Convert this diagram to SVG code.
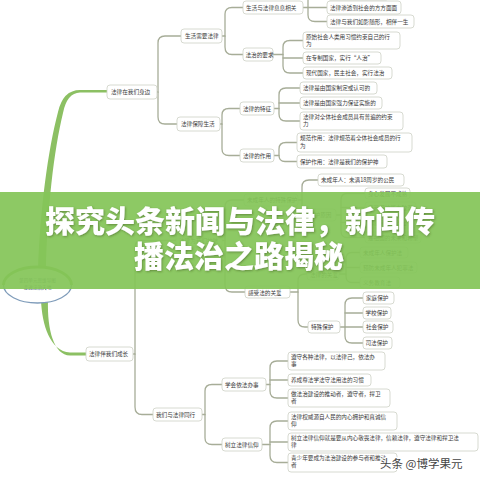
<svg xmlns="http://www.w3.org/2000/svg" width="480" height="480" viewBox="0 0 480 480">
<defs>
<style>
.n rect{fill:#fff;stroke:#cdd1c5;stroke-width:0.8}
.n text,.lf text{font-family:"Noto Sans CJK SC","Noto Sans",sans-serif;font-size:5.6px;fill:#3a3a3a}
.lf rect{fill:#fff;stroke:#cdd1c5;stroke-width:0.8}
#connectors path{fill:none;stroke:#a7ad98;stroke-width:1.3;stroke-linecap:round}
.title{font-family:"Noto Sans CJK SC","Noto Sans",sans-serif;font-weight:900;font-size:30px;fill:#fff;text-anchor:middle}
</style>
<filter id="sh" x="-5%" y="-20%" width="110%" height="140%">
<feDropShadow dx="0.8" dy="1" stdDeviation="0.8" flood-color="#3d5a22" flood-opacity="0.55"/>
</filter>
</defs>
<rect width="480" height="480" fill="#fff"/>

<g id="trunk" fill="#8cc063">
<path d="M38,270 C40,210 48,150 58,112 Q63,90 80,90 H108 V92.6 H80 Q67,93 63,113 C54,150 47,210 46,270 Z"/>
<path d="M41,300 C42,325 50,351 70,352.6 H86 V355.6 H70 C54,355 47,330 48,300 Z"/>
</g>

<g id="connectors">
<path d="M157,92 H158 V43 Q158,36 165,36 H181"/>
<path d="M158,92 V117 Q158,124 165,124 H177"/>
<path d="M222,36 H225 V14 Q225,7.5 232,7.5 H243"/>
<path d="M225,36 V47 Q225,54.5 232,54.5 H243"/>
<path d="M303,7.5 H327"/>
<path d="M308,7.5 V1 Q308,-6 315,-6 H327"/>
<path d="M308,7.5 V15 Q308,21.5 315,21.5 H327"/>
<path d="M273,54.5 H283 V47 Q283,40.5 290,40.5 H303"/>
<path d="M283,58 H303"/>
<path d="M283,54.5 V66 Q283,73 290,73 H303"/>
<path d="M220,124 H222 V115 Q222,108.5 229,108.5 H240"/>
<path d="M222,124 V149 Q222,155.5 229,155.5 H240"/>
<path d="M274,108.5 H279 V95 Q279,88 286,88 H300"/>
<path d="M279,103 H300"/>
<path d="M279,108.5 V114 Q279,121 286,121 H300"/>
<path d="M274,155.5 H279 V149 Q279,142.5 286,142.5 H297"/>
<path d="M279,155.5 Q279,161.5 285,161.5 H297"/>
<path d="M133,354 H135 V247 Q135,240.5 142,240.5 H176"/>
<path d="M135,354 V407 Q135,414.5 142,414.5 H153"/>
<path d="M222,240.5 H225 V207 Q225,200 232,200 H244"/>
<path d="M225,240.5 V285 Q225,292 232,292 H245"/>
<path d="M298,200 H302 V187 Q302,180 309,180 H318"/>
<path d="M302,200 V208 Q302,215 306,215"/>
<path d="M336,215 H341 V200 Q341,193.5 347,193.5 H365"/>
<path d="M341,207.5 H365"/>
<path d="M341,222.5 H365"/>
<path d="M341,215 V231 Q341,237.5 347,237.5 H365"/>
<path d="M290,292 H298 V281 Q298,274 305,274 H307"/>
<path d="M298,292 V320 Q298,327 305,327 H308"/>
<path d="M339,274 H346 V259 Q346,252.5 352,252.5 H360"/>
<path d="M346,267.5 H360"/>
<path d="M346,274 V276 Q346,282.5 352,282.5 H360"/>
<path d="M340,327 H363"/>
<path d="M345,327 V305 Q345,298 352,298 H363"/>
<path d="M345,313 H363"/>
<path d="M345,327 V336 Q345,343 352,343 H363"/>
<path d="M202,414.5 H205 V391 Q205,384.5 212,384.5 H222"/>
<path d="M205,414.5 V438 Q205,444.5 212,444.5 H222"/>
<path d="M266,384.5 H270 V368 Q270,361 277,361 H288"/>
<path d="M270,380 H288"/>
<path d="M270,384.5 V391 Q270,398 277,398 H288"/>
<path d="M262,444.5 H270 V428 Q270,421 277,421 H288"/>
<path d="M270,442 H288"/>
<path d="M270,444.5 V455.5 Q270,462.5 277,462.5 H288"/>
</g>

<g id="root">
<ellipse cx="37.5" cy="285" rx="34" ry="18" fill="#fff" stroke="none"/>
<path d="M3.5,285 A34,18 0 0 1 71.5,285" fill="none" stroke="#7fb84e" stroke-width="3"/>
<path d="M3.5,285 A34,18 0 0 0 71.5,285" fill="none" stroke="#7f9cba" stroke-width="1.3"/>
<text x="37.5" y="282" text-anchor="middle" font-family="Noto Sans CJK SC, sans-serif" font-size="4.6" fill="#3b4f6b">第四单元思维导图</text>
<text x="37.5" y="289" text-anchor="middle" font-family="Noto Sans CJK SC, sans-serif" font-size="4.6" fill="#3b4f6b">走进法治天地</text>
</g>

<g id="n1" class="n"><rect x="107" y="85" width="50" height="14" rx="3"/><text x="111" y="94">法律在我们身边</text></g>
<g id="n2" class="n"><rect x="86" y="347" width="47" height="14" rx="3"/><text x="89" y="356">法律伴我们成长</text></g>
<g id="n11" class="n"><rect x="181" y="29" width="41" height="14" rx="3"/><text x="185" y="38">生活需要法律</text></g>
<g id="n12" class="n"><rect x="177" y="117" width="43" height="14" rx="3"/><text x="181" y="126">法律保障生活</text></g>
<g id="n111" class="n"><rect x="243" y="1" width="60" height="13" rx="3"/><text x="246" y="9.5">生活与法律息息相关</text></g>
<g id="n112" class="n"><rect x="243" y="48" width="30" height="13" rx="3"/><text x="245.5" y="56.5">法治的要求</text></g>
<g id="n121" class="n"><rect x="240" y="102" width="34" height="13" rx="3"/><text x="243" y="110.5">法律的特征</text></g>
<g id="n122" class="n"><rect x="240" y="149" width="34" height="13" rx="3"/><text x="243" y="157.5">法律的作用</text></g>

<g id="l1110" class="lf"><rect x="327" y="-12" width="62" height="12" rx="3"/></g>
<g id="l1111" class="lf"><rect x="327" y="1" width="74" height="13" rx="3"/><text x="330" y="9.5">法律渗透到社会的方方面面</text></g>
<g id="l1112" class="lf"><rect x="327" y="15" width="87" height="13" rx="3"/><text x="330" y="23.5">法律与我们如影随形，相伴一生</text></g>
<g id="l1121" class="lf"><rect x="303" y="32" width="97" height="17" rx="3"/><text x="306" y="38.5">原始社会人类用习惯约束自己的行</text><text x="306" y="45.5">为</text></g>
<g id="l1122" class="lf"><rect x="303" y="52" width="78" height="12" rx="3"/><text x="306" y="60">在专制国家，实行“人治”</text></g>
<g id="l1123" class="lf"><rect x="303" y="67" width="89" height="12" rx="3"/><text x="306" y="75">现代国家，民主社会，实行法治</text></g>
<g id="l1211" class="lf"><rect x="300" y="82" width="77" height="12" rx="3"/><text x="303" y="90">法律是由国家制定或认可的</text></g>
<g id="l1212" class="lf"><rect x="300" y="97" width="82" height="12" rx="3"/><text x="303" y="105">法律是由国家强力保证实施的</text></g>
<g id="l1213" class="lf"><rect x="300" y="112" width="103" height="18" rx="3"/><text x="303" y="118.5">法律对全体社会成员具有普遍的约束</text><text x="303" y="126">力</text></g>
<g id="l1221" class="lf"><rect x="297" y="133" width="115" height="19" rx="3"/><text x="300" y="140">规范作用：法律规范着全体社会成员的行</text><text x="300" y="148">为</text></g>
<g id="l1222" class="lf"><rect x="297" y="155" width="90" height="13" rx="3"/><text x="300" y="163.5">保护作用：法律是我们的保护神</text></g>

<g id="n21" class="n"><rect x="176" y="234" width="46" height="13" rx="3"/><text x="179" y="242.5">法律为我们护航</text></g>
<g id="n211" class="n"><rect x="244" y="194" width="54" height="12" rx="3"/><text x="247" y="202">未成年人的特殊保护</text></g>
<g id="l2111" class="lf"><rect x="318" y="174" width="86" height="12" rx="3"/><text x="321" y="182">未成年人：未满18周岁的公民</text></g>
<g id="n2112" class="n"><rect x="306" y="209" width="30" height="12" rx="3"/><text x="309" y="217">保护原因</text></g>
<g id="l21121" class="lf"><rect x="365" y="188" width="45" height="11" rx="3"/><text x="368" y="195.5">身心发展不成熟</text></g>
<g id="l21122" class="lf"><rect x="365" y="202" width="51" height="11" rx="3"/><text x="368" y="209.5">自我保护能力较弱</text></g>
<g id="l21123" class="lf"><rect x="365" y="217" width="51" height="11" rx="3"/><text x="368" y="224.5">容易受到不法侵害</text></g>
<g id="l21124" class="lf"><rect x="365" y="232" width="56" height="11" rx="3"/><text x="368" y="239.5">是祖国的未来和希望</text></g>
<g id="n212" class="n"><rect x="245" y="286" width="45" height="12" rx="3"/><text x="248" y="294.5">感受法的关爱</text></g>
<g id="n2121" class="n"><rect x="307" y="268" width="32" height="12" rx="3"/><text x="310" y="276.5">法律的关爱</text></g>
<g id="l21211" class="lf"><rect x="360" y="247" width="48" height="11" rx="3"/><text x="363" y="254.5">未成年人保护法</text></g>
<g id="l21212" class="lf"><rect x="360" y="262" width="57" height="11" rx="3"/><text x="363" y="269.5">预防未成年人犯罪法</text></g>
<g id="l21213" class="lf"><rect x="360" y="277" width="40" height="11" rx="3"/><text x="363" y="284.5">义务教育法</text></g>
<g id="n2122" class="n"><rect x="308" y="321" width="32" height="12" rx="3"/><text x="311" y="329">特殊保护</text></g>
<g id="l21221" class="lf"><rect x="363" y="292" width="31" height="12" rx="3"/><text x="366" y="300">家庭保护</text></g>
<g id="l21222" class="lf"><rect x="363" y="307" width="28" height="12" rx="3"/><text x="365.5" y="315">学校保护</text></g>
<g id="l21223" class="lf"><rect x="363" y="321" width="30" height="12" rx="3"/><text x="366" y="329">社会保护</text></g>
<g id="l21224" class="lf"><rect x="363" y="337" width="29" height="12" rx="3"/><text x="365.5" y="345">司法保护</text></g>

<g id="n22" class="n"><rect x="153" y="408" width="49" height="13" rx="3"/><text x="156" y="416.5">我们与法律同行</text></g>
<g id="n221" class="n"><rect x="222" y="378" width="44" height="13" rx="3"/><text x="225" y="386.5">学会依法办事</text></g>
<g id="n222" class="n"><rect x="222" y="438" width="40" height="13" rx="3"/><text x="225" y="446.5">树立法律信仰</text></g>
<g id="l2211" class="lf"><rect x="288" y="352" width="97" height="18" rx="3"/><text x="291" y="358.5">遵守各种法律，以法律己，依法办</text><text x="291" y="366">事</text></g>
<g id="l2212" class="lf"><rect x="288" y="374" width="83" height="12" rx="3"/><text x="291" y="382">养成尊法学法守法用法的习惯</text></g>
<g id="l2213" class="lf"><rect x="288" y="389" width="102" height="18" rx="3"/><text x="291" y="395.5">做法治建设的推动者，遵守者，捍卫</text><text x="291" y="403">者</text></g>
<g id="l2221" class="lf"><rect x="288" y="412" width="109" height="18" rx="3"/><text x="291" y="418.5">法律权威源自人民的内心拥护和真诚信</text><text x="291" y="426">仰</text></g>
<g id="l2222" class="lf"><rect x="288" y="433" width="190" height="18" rx="3"/><text x="291" y="439.5">树立法律信仰就是要从内心敬畏法律，信赖法律，遵守法律和捍卫法</text><text x="291" y="447">律</text></g>
<g id="l2223" class="lf"><rect x="288" y="453" width="109" height="19" rx="3"/><text x="291" y="459.5">青少年要成为法治建设的参与者和推动</text><text x="291" y="467">者</text></g>

<g id="banner">
<rect x="0" y="192" width="480" height="97" fill="#84c558" fill-opacity="0.93"/>
<g filter="url(#sh)">
<text class="title" x="240" y="232">探究头条新闻与法律，新闻传</text>
<text class="title" x="239" y="267">播法治之路揭秘</text>
</g>
</g>

<text id="watermark" x="380" y="468" font-family="Noto Sans CJK SC, sans-serif" font-size="11.5" fill="#444" stroke="#fff" stroke-width="2" paint-order="stroke">头条 @博学果元</text>
</svg>
